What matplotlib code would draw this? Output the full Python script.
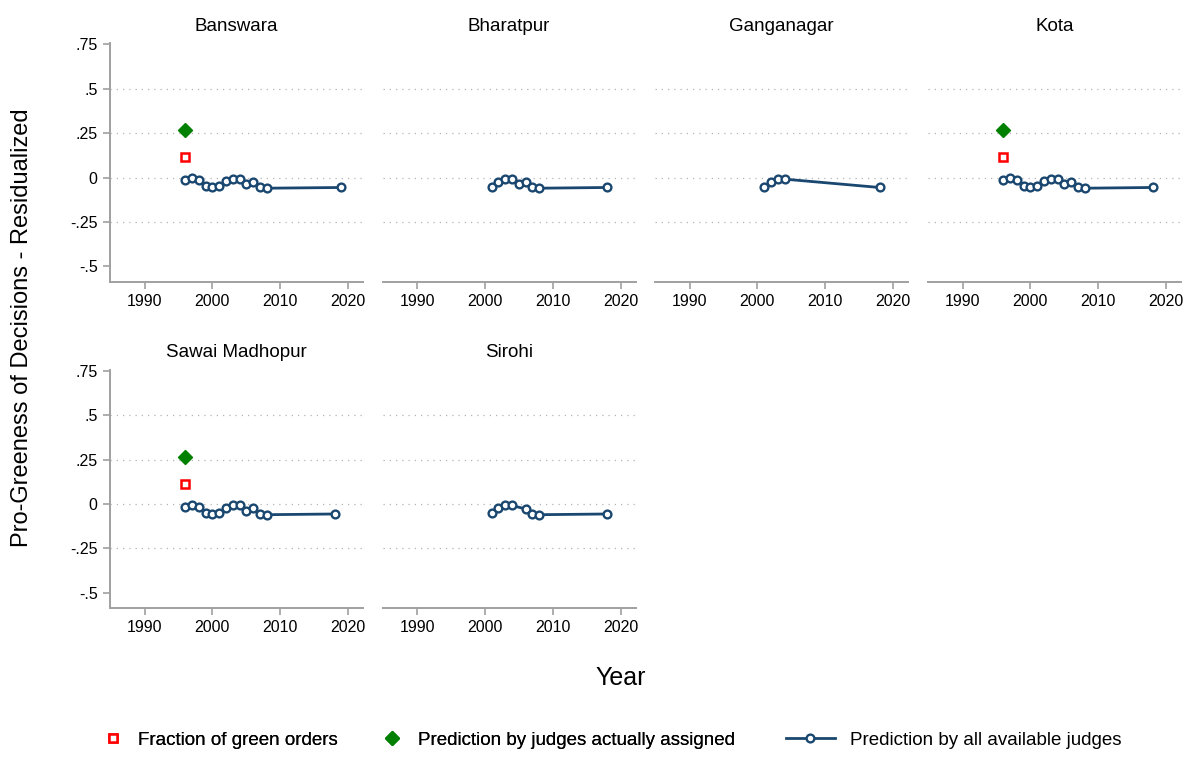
import numpy as np
import matplotlib
matplotlib.use("Agg")
import matplotlib.pyplot as plt
from matplotlib.lines import Line2D

plt.rcParams["font.family"] = ["Liberation Sans", "DejaVu Sans"]

# ---- data -------------------------------------------------------------------
DISTRICTS = ["Banswara", "Bharatpur", "Ganganagar", "Kota", "Sawai Madhopur", "Sirohi"]

FULL_YEARS = [1996, 1997, 1998, 1999, 2000, 2001, 2002, 2003, 2004, 2005, 2006, 2007, 2008]
FULL_PRED = [-0.015, -0.004, -0.015, -0.050, -0.056, -0.050, -0.020, -0.006, -0.008,
             -0.038, -0.024, -0.056, -0.060]

banswara_years = FULL_YEARS + [2019]
banswara_pred = FULL_PRED + [-0.056]
bharatpur_years = [2001, 2002, 2003, 2004, 2005, 2006, 2007, 2008, 2018]
bharatpur_pred = [-0.053, -0.023, -0.006, -0.006, -0.036, -0.024, -0.056, -0.060, -0.056]
ganganagar_years = [2001, 2002, 2003, 2004, 2018]
ganganagar_pred = [-0.053, -0.023, -0.006, -0.009, -0.056]
kota_years = FULL_YEARS + [2018]
kota_pred = FULL_PRED + [-0.056]
sawai_years = FULL_YEARS + [2018]
sawai_pred = FULL_PRED + [-0.056]
sirohi_years = [2001, 2002, 2003, 2004, 2006, 2007, 2008, 2018]
sirohi_pred = [-0.053, -0.023, -0.006, -0.008, -0.028, -0.056, -0.060, -0.056]

# single-year points (1996) for the districts that have them
frac_green = {"Banswara": 0.115, "Kota": 0.115, "Sawai Madhopur": 0.115}
pred_assigned = {"Banswara": 0.267, "Kota": 0.267, "Sawai Madhopur": 0.267}
POINT_YEAR = 1996

SERIES = {
    "Banswara": (banswara_years, banswara_pred),
    "Bharatpur": (bharatpur_years, bharatpur_pred),
    "Ganganagar": (ganganagar_years, ganganagar_pred),
    "Kota": (kota_years, kota_pred),
    "Sawai Madhopur": (sawai_years, sawai_pred),
    "Sirohi": (sirohi_years, sirohi_pred),
}

X_TICKS = [1990, 2000, 2010, 2020]
Y_TICKS = [-0.5, -0.25, 0, 0.25, 0.5, 0.75]
Y_TICKLABELS = ["-.5", "-.25", "0", ".25", ".5", ".75"]
GRID_Y = [-0.25, 0, 0.25, 0.5]

# ---- style -------------------------------------------------------------------
NAVY = "#1a476f"
RED = "#ff0000"
GREEN = "#008000"
AXGRAY = "#a0a0a0"
W, H = 1191, 757

LINE_KW = dict(color=NAVY, lw=2.0, marker="o", ms=5.6, mfc="white", mec=NAVY, mew=1.7)
SQ_KW = dict(ls="none", marker="s", ms=5.4, mfc="white", mec=RED, mew=1.8)
DIA_KW = dict(ls="none", marker="D", ms=7.2, mfc=GREEN, mec=GREEN)

fig = plt.figure(figsize=(W / 100, H / 100), dpi=100)

lefts = [110, 382.5, 655, 928]
pw = 253
row_bottoms = [281.5, 608]
ph = 238.5

for i, name in enumerate(DISTRICTS):
    r, c = divmod(i, 4)
    ax = fig.add_axes([lefts[c] / W, 1 - row_bottoms[r] / H, pw / W, ph / H])
    ax.set_xlim(1984.9, 2022.2)
    ax.set_ylim(-0.585, 0.757)
    for g in GRID_Y:
        ax.axhline(g, color="#b4b4b4", lw=0.9, ls=(0, (1, 4)), zorder=0)
    yrs, pred = SERIES[name]
    ax.plot(yrs, pred, zorder=3, **LINE_KW)
    if name in frac_green:
        ax.plot([POINT_YEAR], [frac_green[name]], zorder=4, **SQ_KW)
        ax.plot([POINT_YEAR], [pred_assigned[name]], zorder=4, **DIA_KW)

    for s in ["top", "right"]:
        ax.spines[s].set_visible(False)
    ax.spines["bottom"].set_color(AXGRAY)
    ax.spines["bottom"].set_linewidth(1.4)
    ax.set_xticks(X_TICKS)
    ax.tick_params(axis="x", colors=AXGRAY, length=5, width=1.2, labelcolor="black",
                   labelsize=11.5, pad=4)
    if c == 0:
        ax.spines["left"].set_color(AXGRAY)
        ax.spines["left"].set_linewidth(1.4)
        ax.set_yticks(Y_TICKS)
        ax.set_yticklabels(Y_TICKLABELS)
        ax.tick_params(axis="y", colors=AXGRAY, length=5, width=1.2, labelcolor="black",
                       labelsize=11.5, pad=4)
    else:
        ax.spines["left"].set_visible(False)
        ax.set_yticks([])
    ax.set_title(name, fontsize=13.5, pad=9)

fig.text(22 / W, 1 - 328 / H, "Pro-Greeness of Decisions - Residualized", rotation=90,
         ha="center", va="center", fontsize=17)
fig.text(621 / W, 1 - 678 / H, "Year", ha="center", va="center", fontsize=18)

# legend: three separate keys as in the reference
kw = dict(frameon=False, fontsize=13.5, loc="center left", borderaxespad=0,
          borderpad=0, handletextpad=0.8)
h1 = Line2D([], [], **SQ_KW)
h2 = Line2D([], [], **DIA_KW)
h3 = Line2D([], [], **LINE_KW)
l1 = fig.legend([h1], ["Fraction of green orders"], bbox_to_anchor=(104 / W, 1 - 740 / H),
                handlelength=1.0, **kw)
fig.add_artist(l1)
l2 = fig.legend([h2], ["Prediction by judges actually assigned"],
                bbox_to_anchor=(381 / W, 1 - 740 / H), handlelength=1.2, **kw)
fig.add_artist(l2)
fig.legend([h3], ["Prediction by all available judges"],
           bbox_to_anchor=(786 / W, 1 - 740 / H), handlelength=2.6, **kw)

fig.savefig("out.png", dpi=100, facecolor="white")
